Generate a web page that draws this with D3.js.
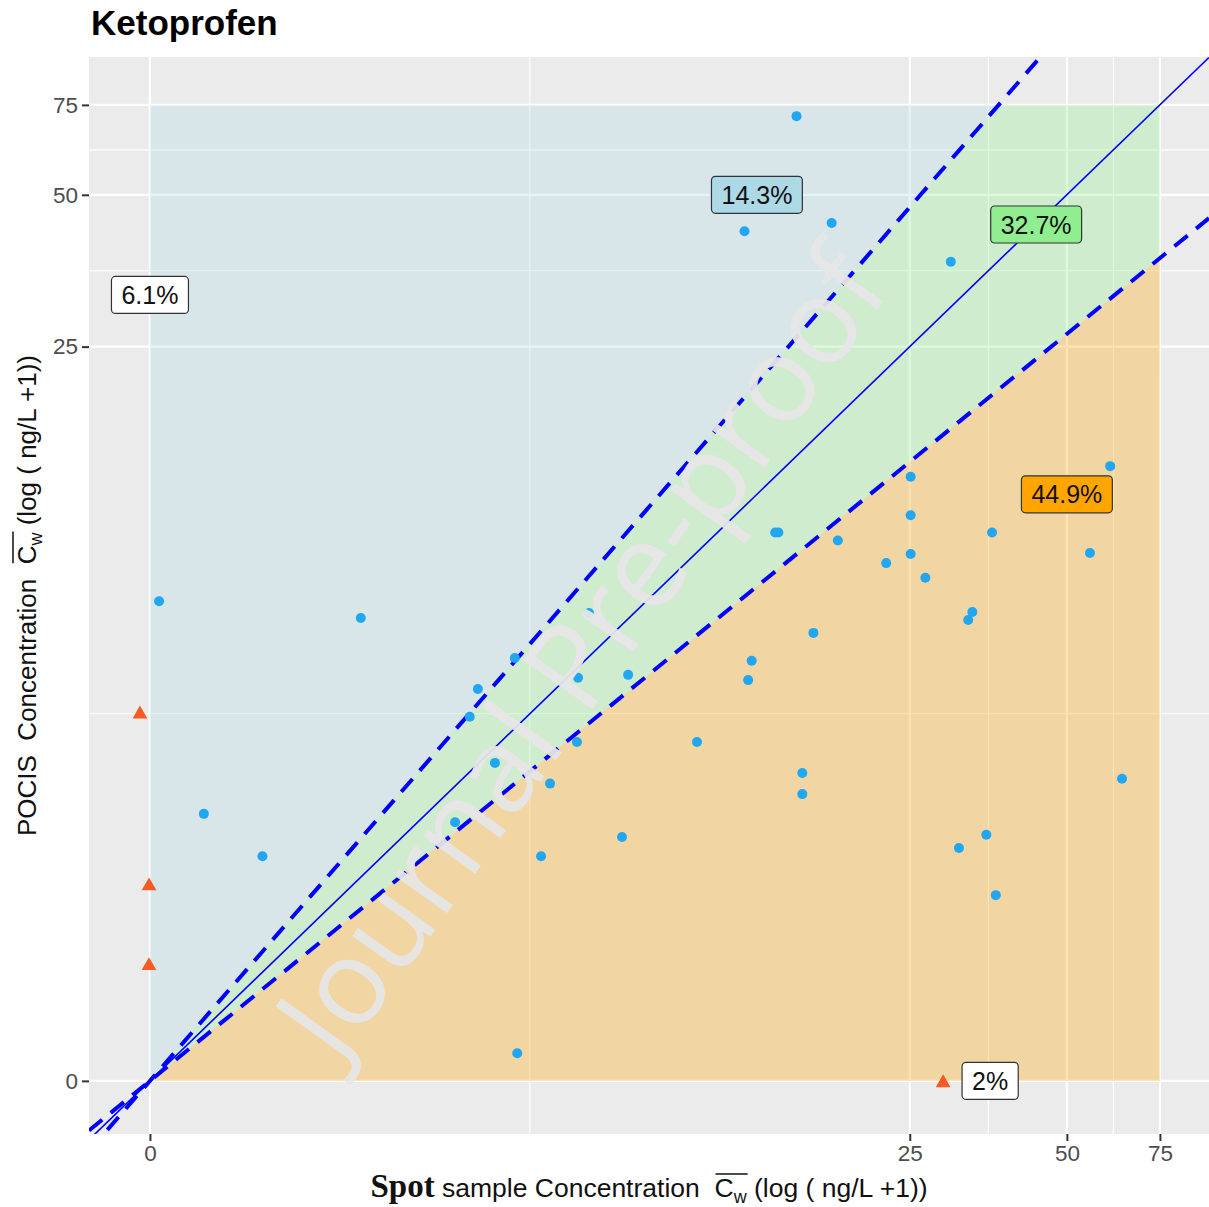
<!DOCTYPE html>
<html>
<head>
<meta charset="utf-8">
<script src="https://cdn.jsdelivr.net/npm/d3@7"></script>
<style>
body{margin:0;background:#fff}
svg{font-family:'Liberation Sans',Arial,sans-serif}
text{white-space:pre}
</style>
</head>
<body>
<svg id="chart" width="1209" height="1207"></svg>
<script>
// spot sample (x) vs POCIS (y), ng/L
var spotX = [15.0, 11.8, 17.6, 30.0, 0.04, 1.47, 3.08, 2.94, 3.78, 3.39, 2.70, 0.26, 0.62, 4.35,
  13.8, 13.6, 18.1, 5.57, 5.27, 6.77, 16.2, 12.2, 12.0, 5.24, 9.44, 4.56, 15.4, 15.4, 6.57,
  60.4, 25.1, 25.1, 36.0, 22.5, 25.1, 26.8, 55.3, 33.0, 32.4, 63.6, 35.1, 31.1, 36.6, 3.83]
var pocisY = [71.3, 42.4, 44.0, 36.9, 7.4, 6.8, 4.69, 4.03, 5.53, 3.10, 2.15, 2.27, 1.71, 1.71,
  10.4, 10.4, 10.0, 6.97, 4.98, 5.06, 6.30, 5.45, 4.92, 3.50, 3.50, 2.74, 2.92, 2.57, 1.95,
  14.3, 13.6, 11.3, 10.4, 8.95, 9.36, 8.32, 9.41, 7.01, 6.73, 2.82, 1.98, 1.81, 1.28, 0.13]

// values outside (triangles)
var outX = [-0.042, -0.004, -0.004, 29.0]
var outY = [4.09, 1.375, 0.666, -0.009]

var tickValues = [0, 25, 50, 75]
var xLimits = [-0.23, 92.8]
var yLimits = [-0.21, 93]
var zoneMax = 75
var slopes = [1.19, 1, 0.843]

var zoneLabels = ['6.1%', '14.3%', '32.7%', '44.9%', '2%']
var zoneLabelX = [0, 12.5, 43.7, 50, 35.7]
var zoneLabelY = [31.7, 50, 43.7, 12.5, 0]
var zoneLabelFill = ['#ffffff', '#add8e6', '#90ee90', '#ffa500', '#ffffff']

var svg = d3.select('#chart')
var m = {left: 89, right: 1209, top: 57, bottom: 1134}
var tf = Math.log1p

var x = d3.scaleLinear().domain(xLimits.map(tf)).range([m.left, m.right])
var y = d3.scaleLinear().domain(yLimits.map(tf)).range([m.bottom, m.top])

svg.append('clipPath').attr('id', 'panel')
  .append('rect').attr('x', m.left).attr('y', m.top)
  .attr('width', m.right - m.left).attr('height', m.bottom - m.top)

var panel = svg.append('g').attr('clip-path', 'url(#panel)')
panel.append('rect').attr('x', m.left).attr('y', m.top)
  .attr('width', m.right - m.left).attr('height', m.bottom - m.top)
  .attr('fill', '#ebebeb')

var major = tickValues.map(tf)
var minor = d3.pairs(major).map(p => (p[0] + p[1]) / 2)

panel.selectAll('line.minx').data(minor).join('line')
  .attr('x1', d => x(d)).attr('x2', d => x(d)).attr('y1', m.top).attr('y2', m.bottom)
  .attr('stroke', '#fff').attr('stroke-width', 1.1)
panel.selectAll('line.miny').data(minor).join('line')
  .attr('y1', d => y(d)).attr('y2', d => y(d)).attr('x1', m.left).attr('x2', m.right)
  .attr('stroke', '#fff').attr('stroke-width', 1.1)
panel.selectAll('line.majx').data(major).join('line')
  .attr('x1', d => x(d)).attr('x2', d => x(d)).attr('y1', m.top).attr('y2', m.bottom)
  .attr('stroke', '#fff').attr('stroke-width', 2.2)
panel.selectAll('line.majy').data(major).join('line')
  .attr('y1', d => y(d)).attr('y2', d => y(d)).attr('x1', m.left).attr('x2', m.right)
  .attr('stroke', '#fff').attr('stroke-width', 2.2)

// zones
var zTop = tf(zoneMax), kUp = slopes[0], kLo = slopes[2]
var zones = [
  {fill: '#add8e6', pts: [[0, 0], [zTop / kUp, zTop], [0, zTop]]},
  {fill: '#90ee90', pts: [[0, 0], [zTop / kUp, zTop], [zTop, zTop], [zTop, zTop * kLo]]},
  {fill: '#ffa500', pts: [[0, 0], [zTop, zTop * kLo], [zTop, 0]]}
]
var poly = d3.line().x(d => x(d[0])).y(d => y(d[1]))
panel.selectAll('path.zone').data(zones).join('path')
  .attr('d', d => poly(d.pts) + 'Z')
  .attr('fill', d => d.fill).attr('fill-opacity', 0.3)

// reference lines
var dom = x.domain()
panel.selectAll('line.ref').data(slopes).join('line')
  .attr('x1', x(dom[0])).attr('x2', x(dom[1]))
  .attr('y1', k => y(k * dom[0])).attr('y2', k => y(k * dom[1]))
  .attr('stroke', '#0000ff')
  .attr('stroke-width', k => k == 1 ? 1.6 : 4)
  .attr('stroke-dasharray', k => k == 1 ? null : '17,11')

// points
panel.selectAll('circle.pt').data(spotX).join('circle')
  .attr('cx', d => x(tf(d))).attr('cy', (d, i) => y(tf(pocisY[i])))
  .attr('r', 5).attr('fill', '#21a7f1')

panel.selectAll('path.tri').data(outX).join('path')
  .attr('d', d3.symbol(d3.symbolTriangle, 95))
  .attr('transform', (d, i) => `translate(${x(tf(d))},${y(tf(outY[i]))})`)
  .attr('fill', '#f55b22')

// zone labels
var lab = svg.selectAll('g.lab').data(zoneLabels).join('g')
  .attr('transform', (d, i) => `translate(${x(tf(zoneLabelX[i]))},${y(tf(zoneLabelY[i]))})`)
lab.append('rect')
lab.append('text').text(d => d)
  .attr('text-anchor', 'middle').attr('dy', '0.36em')
  .attr('font-size', 25).attr('fill', '#111')
lab.each(function(d, i){
  var g = d3.select(this)
  var w = g.select('text').node().getComputedTextLength() + 20
  g.select('rect').attr('x', -w / 2).attr('y', -18.5).attr('width', w).attr('height', 37)
    .attr('rx', 4).attr('fill', zoneLabelFill[i]).attr('stroke', '#333').attr('stroke-width', 1.2)
})

// axes
var xAxis = svg.append('g').attr('transform', `translate(0,${m.bottom})`)
  .call(d3.axisBottom(x).tickValues(major).tickFormat((d, i) => tickValues[i]).tickSize(7).tickPadding(4))
var yAxis = svg.append('g').attr('transform', `translate(${m.left},0)`)
  .call(d3.axisLeft(y).tickValues(major).tickFormat((d, i) => tickValues[i]).tickSize(7).tickPadding(4))
;[xAxis, yAxis].forEach(a => {
  a.select('.domain').remove()
  a.selectAll('line').attr('stroke', '#333').attr('stroke-width', 2)
  a.selectAll('text').attr('fill', '#4d4d4d').attr('font-size', 22.5)
    .attr('font-family', "'Liberation Sans',Arial,sans-serif")
})

// title
svg.append('text').attr('x', 91).attr('y', 35).text('Ketoprofen')
  .attr('font-size', 35).attr('font-weight', 'bold').attr('fill', '#000')

// axis titles built from pieces
function titleLine(g, pieces){
  var cx = 0, ol = []
  pieces.forEach(p => {
    var t = g.append('text').text(p.t).attr('x', cx).attr('y', p.dy || 0)
      .attr('font-size', p.size || 26).attr('fill', '#111')
      .attr('font-family', p.serif ? "'Liberation Serif','Times New Roman',serif" : null)
      .attr('font-weight', p.bold ? 'bold' : null)
    var w = t.node().getComputedTextLength()
    if (p.over) ol.push([cx, cx + w])
    cx += w
  })
  if (ol.length) g.append('line')
    .attr('x1', ol[0][0] + 1).attr('x2', ol[ol.length - 1][1] + 1)
    .attr('y1', -23).attr('y2', -23).attr('stroke', '#111').attr('stroke-width', 1.5)
  g.selectAll('*').attr('transform', `translate(${-cx / 2},0)`)
}

var cxPanel = (m.left + m.right) / 2, cyPanel = (m.top + m.bottom) / 2
var xt = svg.append('g').attr('transform', `translate(${cxPanel},1197)`)
titleLine(xt, [
  {t: 'Spot', serif: true, bold: true, size: 33},
  {t: ' sample Concentration  ', size: 26.5},
  {t: 'C', over: true, size: 26.5},
  {t: 'w', size: 18, dy: 6, over: true},
  {t: ' (log ( ng/L +1))', size: 26.5}
])
var yt = svg.append('g').attr('transform', `translate(36,${cyPanel}) rotate(-90)`)
titleLine(yt, [
  {t: 'POCIS  Concentration  '},
  {t: 'C', over: true},
  {t: 'w', size: 18, dy: 6, over: true},
  {t: ' (log ( ng/L +1))'}
])

// watermark
svg.append('text').text('Journal Pre-proof')
  .attr('transform', 'translate(582,652) rotate(-54.5)')
  .attr('text-anchor', 'middle').attr('dy', '0.35em')
  .attr('font-family', "'Open Sans',sans-serif").attr('font-size', 119)
  .attr('fill', '#e6e6e6').attr('fill-opacity', 0.95)
</script>
</body>
</html>
